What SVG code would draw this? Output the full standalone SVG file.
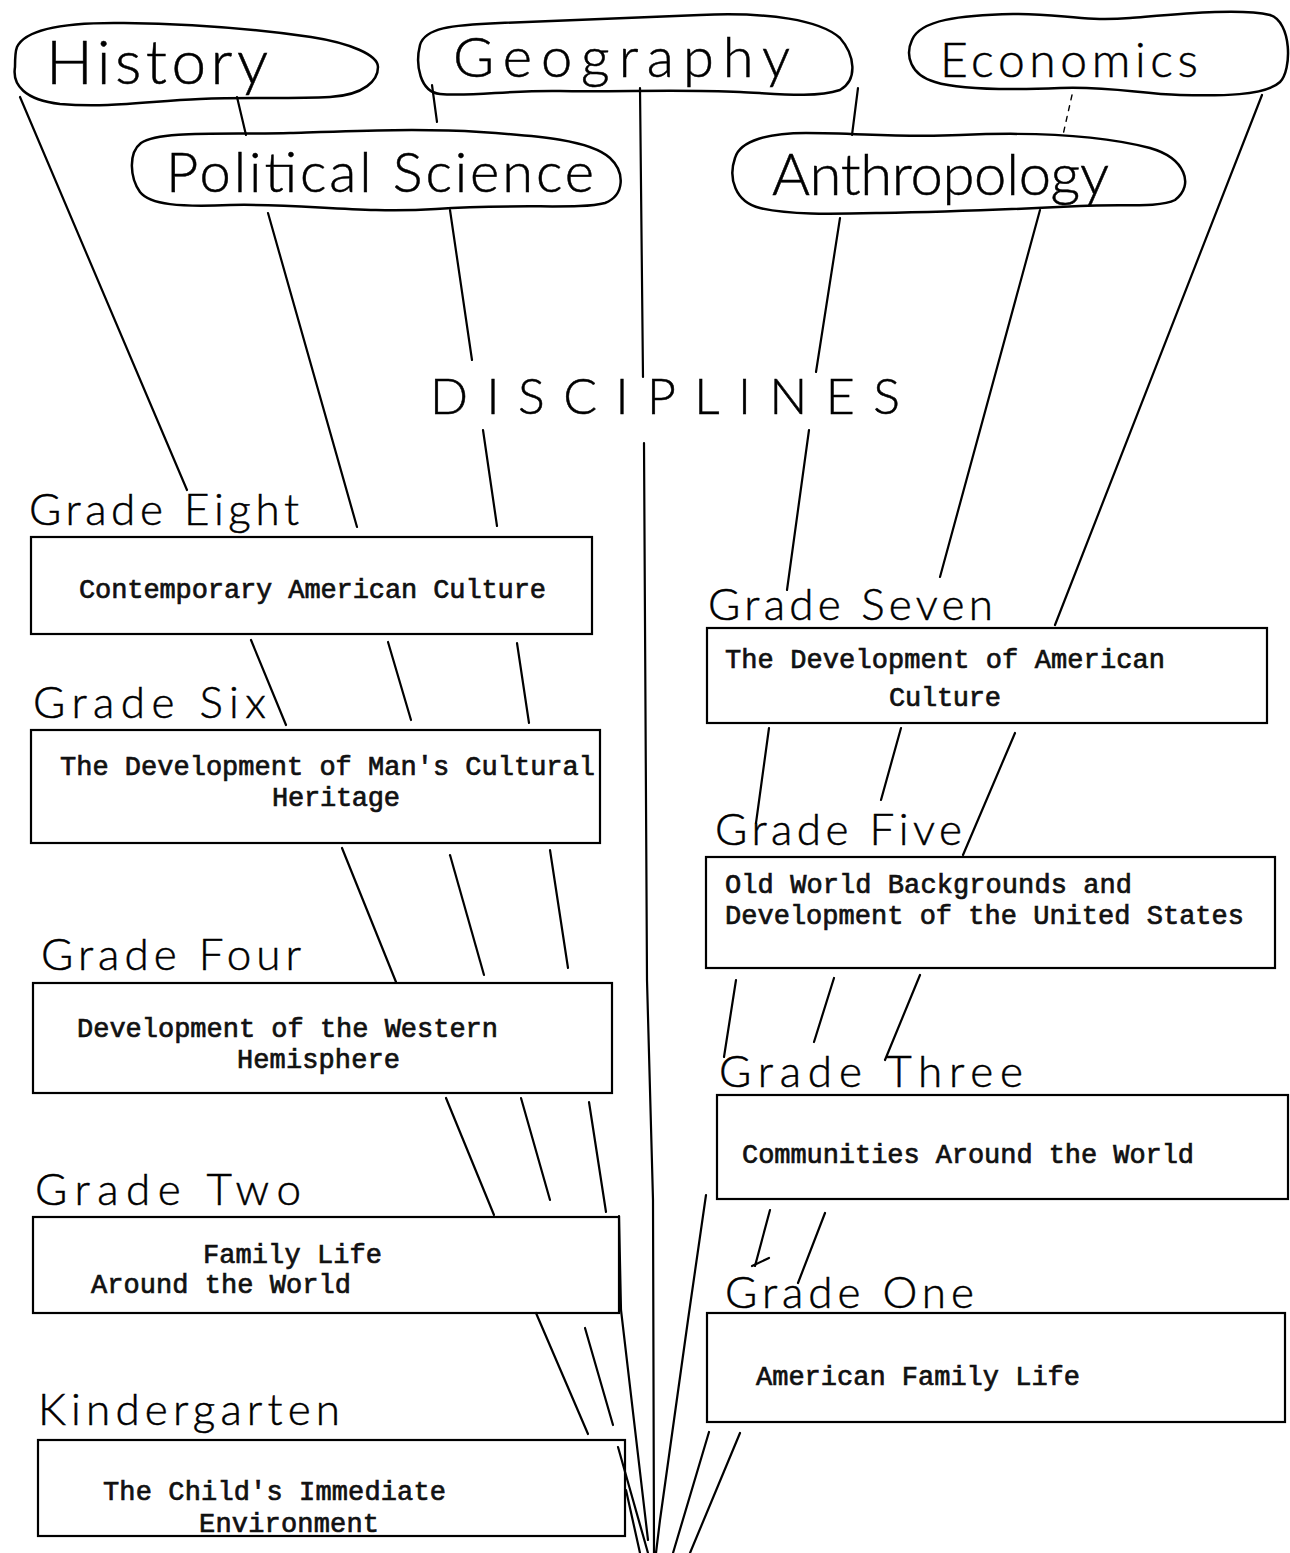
<svg xmlns="http://www.w3.org/2000/svg" width="1290" height="1553" viewBox="0 0 1290 1553">
<style>
.bg{fill:#fff}
.cloud{fill:none;stroke:#000;stroke-width:2.5;stroke-linejoin:round}
.box{fill:none;stroke:#000;stroke-width:2.2}
.hand{font-family:Lato,"Open Sans","DejaVu Sans",sans-serif;font-weight:300;fill:#000;stroke:#000;stroke-width:0.5}
.lab{font-size:44px}
.type{font-family:"Liberation Mono","DejaVu Sans Mono",monospace;font-weight:normal;font-size:27px;fill:#111;stroke:#111;stroke-width:0.7}
#connectors line,#connectors polyline{stroke:#000;stroke-width:2.2;fill:none;stroke-linecap:round}
#connectors .dash{stroke-dasharray:5 6;stroke-width:1.4}
</style>
<rect class="bg" x="0" y="0" width="1290" height="1553"/>

<g id="connectors">
  <line x1="20" y1="97" x2="187" y2="490"/>
  <line x1="237" y1="97" x2="246" y2="135"/>
  <line x1="268" y1="213" x2="357" y2="527"/>
  <line x1="450" y1="210" x2="472" y2="360"/>
  <line x1="483" y1="430" x2="497" y2="526"/>
  <line x1="432" y1="85" x2="437" y2="122"/>
  <line x1="640" y1="88" x2="643" y2="377"/>
  <polyline points="644,443 647,980 653,1200 654,1553"/>
  <line x1="858" y1="88" x2="852" y2="135"/>
  <line class="dash" x1="1072" y1="95" x2="1063" y2="135"/>
  <line x1="1262" y1="95" x2="1055" y2="625"/>
  <line x1="840" y1="218" x2="816" y2="372"/>
  <line x1="809" y1="430" x2="787" y2="590"/>
  <line x1="1040" y1="210" x2="940" y2="577"/>

  <line x1="251" y1="640" x2="286" y2="725"/>
  <line x1="388" y1="642" x2="411" y2="720"/>
  <line x1="517" y1="643" x2="529" y2="723"/>

  <line x1="342" y1="848" x2="396" y2="982"/>
  <line x1="450" y1="855" x2="484" y2="975"/>
  <line x1="550" y1="850" x2="568" y2="968"/>

  <line x1="446" y1="1098" x2="494" y2="1215"/>
  <line x1="521" y1="1098" x2="550" y2="1200"/>
  <line x1="589" y1="1102" x2="606" y2="1212"/>

  <line x1="536" y1="1313" x2="588" y2="1434"/>
  <line x1="585" y1="1328" x2="613" y2="1425"/>
  <polyline points="619,1216 621,1310 648,1540"/>
  <line x1="618" y1="1447" x2="648" y2="1553"/>
  <line x1="626" y1="1490" x2="640" y2="1553"/>
  <polyline points="706,1195 688,1320 660,1520 656,1553"/>
  <line x1="709" y1="1432" x2="673" y2="1553"/>
  <line x1="740" y1="1433" x2="690" y2="1553"/>

  <line x1="769" y1="728" x2="756" y2="823"/>
  <line x1="901" y1="728" x2="881" y2="800"/>
  <line x1="1015" y1="733" x2="963" y2="855"/>

  <line x1="736" y1="980" x2="724" y2="1057"/>
  <line x1="834" y1="978" x2="814" y2="1042"/>
  <line x1="920" y1="975" x2="885" y2="1060"/>

  <polyline points="770,1210 755,1266"/>
  <line x1="752" y1="1266" x2="769" y2="1258"/>
  <line x1="825" y1="1213" x2="798" y2="1283"/>
</g>

<g id="history">
  <path class="cloud" d="M17,47 C25,30 60,22 124,23 C190,24 250,28 311,37 C350,43 378,55 378,67 C378,80 365,95 330,97 C290,99 250,97 200,99 C150,101 110,108 60,104 C25,100 12,85 15,67 C15,58 15,52 17,47 Z"/>
  <text class="hand" x="46" y="84" font-size="62" textLength="222" lengthAdjust="spacing">History</text>
</g>
<g id="geography">
  <path class="cloud" d="M420,45 C425,28 450,25 500,23 C560,21 620,18 700,15 C770,12 820,20 840,38 C855,55 858,80 840,90 C815,98 780,94 740,92 C680,89 620,92 560,91 C510,90 470,97 440,94 C420,92 415,65 420,45 Z"/>
  <text class="hand" x="453" y="77" font-size="56" textLength="337" lengthAdjust="spacing">Geography</text>
</g>
<g id="economics">
  <path class="cloud" d="M912,40 C920,20 960,15 1013,14 C1060,13 1080,22 1130,18 C1180,14 1240,8 1270,15 C1292,22 1292,70 1280,82 C1265,96 1220,96 1180,95 C1140,94 1110,86 1060,88 C1010,90 960,90 935,82 C910,75 905,55 912,40 Z"/>
  <text class="hand" x="940" y="77" font-size="48" textLength="258" lengthAdjust="spacing">Economics</text>
</g>
<g id="political-science">
  <path class="cloud" d="M141,143 C160,130 230,135 290,133 C350,131 420,128 480,132 C540,136 590,140 610,158 C625,172 625,195 605,203 C580,210 520,203 436,209 C360,214 300,203 230,205 C180,207 150,205 140,192 C130,178 128,153 141,143 Z"/>
  <text class="hand" x="166" y="192" font-size="56" textLength="428" lengthAdjust="spacing">Political Science</text>
</g>
<g id="anthropology">
  <path class="cloud" d="M735,158 C740,140 770,133 806,133 C860,133 900,138 960,135 C1030,132 1100,135 1150,148 C1185,158 1195,185 1175,200 C1160,208 1120,204 1080,206 C1020,209 950,212 880,213 C830,214 790,215 760,208 C735,202 728,178 735,158 Z"/>
  <text class="hand" x="772" y="195" font-size="58" textLength="337" lengthAdjust="spacing">Anthropology</text>
</g>
<g id="disciplines">
  <text class="hand" x="430" y="414" font-size="50" textLength="470" lengthAdjust="spacing">DISCIPLINES</text>
</g>

<g id="grade-eight">
  <text class="hand lab" x="29" y="525" textLength="270" lengthAdjust="spacing">Grade Eight</text>
  <rect class="box" x="31" y="537" width="561" height="97"/>
  <text class="type" x="79" y="598" textLength="467" lengthAdjust="spacing">Contemporary American Culture</text>
</g>
<g id="grade-six">
  <text class="hand lab" x="33" y="718" textLength="233" lengthAdjust="spacing">Grade Six</text>
  <rect class="box" x="31" y="730" width="569" height="113"/>
  <text class="type" x="60" y="775" textLength="535" lengthAdjust="spacing">The Development of Man's Cultural</text>
  <text class="type" x="272" y="806" textLength="128" lengthAdjust="spacing">Heritage</text>
</g>
<g id="grade-four">
  <text class="hand lab" x="41" y="970" textLength="260" lengthAdjust="spacing">Grade Four</text>
  <rect class="box" x="33" y="983" width="579" height="110"/>
  <text class="type" x="77" y="1037" textLength="421" lengthAdjust="spacing">Development of the Western</text>
  <text class="type" x="237" y="1068" textLength="163" lengthAdjust="spacing">Hemisphere</text>
</g>
<g id="grade-two">
  <text class="hand lab" x="35" y="1205" textLength="266" lengthAdjust="spacing">Grade Two</text>
  <rect class="box" x="33" y="1217" width="586" height="96"/>
  <text class="type" x="203" y="1263" textLength="179" lengthAdjust="spacing">Family Life</text>
  <text class="type" x="91" y="1293" textLength="260" lengthAdjust="spacing">Around the World</text>
</g>
<g id="kindergarten">
  <text class="hand lab" x="38" y="1425" textLength="302" lengthAdjust="spacing">Kindergarten</text>
  <rect class="box" x="38" y="1440" width="587" height="96"/>
  <text class="type" x="103" y="1500" textLength="343" lengthAdjust="spacing">The Child's Immediate</text>
  <text class="type" x="199" y="1532" textLength="180" lengthAdjust="spacing">Environment</text>
</g>
<g id="grade-seven">
  <text class="hand lab" x="708" y="620" textLength="285" lengthAdjust="spacing">Grade Seven</text>
  <rect class="box" x="707" y="628" width="560" height="95"/>
  <text class="type" x="725" y="668" textLength="440" lengthAdjust="spacing">The Development of American</text>
  <text class="type" x="889" y="706" textLength="112" lengthAdjust="spacing">Culture</text>
</g>
<g id="grade-five">
  <text class="hand lab" x="715" y="845" textLength="247" lengthAdjust="spacing">Grade Five</text>
  <rect class="box" x="706" y="857" width="569" height="111"/>
  <text class="type" x="725" y="893" textLength="407" lengthAdjust="spacing">Old World Backgrounds and</text>
  <text class="type" x="725" y="924" textLength="519" lengthAdjust="spacing">Development of the United States</text>
</g>
<g id="grade-three">
  <text class="hand lab" x="719" y="1087" textLength="304" lengthAdjust="spacing">Grade Three</text>
  <rect class="box" x="717" y="1095" width="571" height="104"/>
  <text class="type" x="742" y="1163" textLength="452" lengthAdjust="spacing">Communities Around the World</text>
</g>
<g id="grade-one">
  <text class="hand lab" x="725" y="1308" textLength="249" lengthAdjust="spacing">Grade One</text>
  <rect class="box" x="707" y="1313" width="578" height="109"/>
  <text class="type" x="756" y="1385" textLength="324" lengthAdjust="spacing">American Family Life</text>
</g>
</svg>
